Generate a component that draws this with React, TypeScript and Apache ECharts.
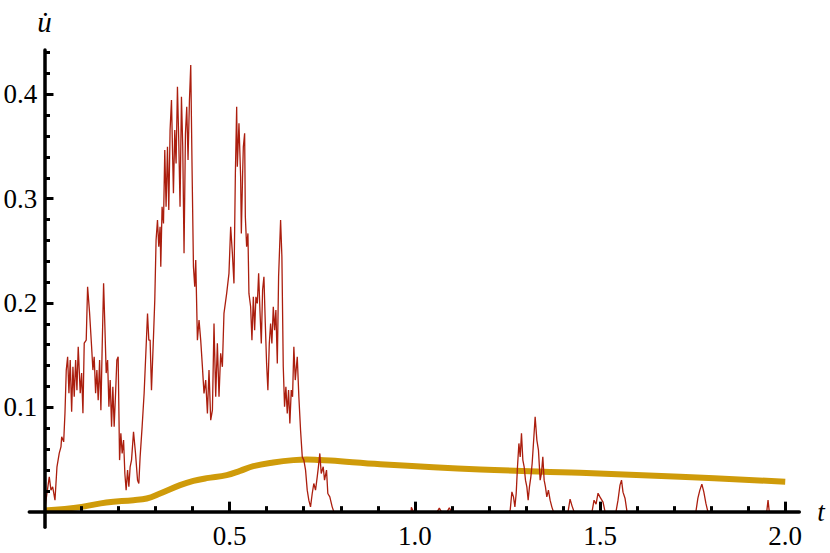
import React, { useEffect, useRef } from "react";
import * as echarts from "echarts";

const xMajorTicks = [0.5, 1.0, 1.5, 2.0];
const xMinorTicks = [0.1, 0.2, 0.3, 0.4, 0.6, 0.7, 0.8, 0.9, 1.1, 1.2, 1.3, 1.4, 1.6, 1.7, 1.8, 1.9];
const yMajorTicks = [0.1, 0.2, 0.3, 0.4];
const yMinorTicks = [0.02, 0.04, 0.06, 0.08, 0.12, 0.14, 0.16, 0.18, 0.22, 0.24, 0.26, 0.28, 0.32, 0.34, 0.36, 0.38, 0.42, 0.44];

// noisy sample path (red)
const redPath: [number, number][] = [
  [0, 0], [0.0067, 0.0177], [0.0129, 0.0334], [0.0175, 0.0206], [0.0221, 0.0238], [0.0283, 0.011],
  [0.0337, 0.043], [0.0399, 0.0561], [0.0445, 0.0621], [0.0464, 0.0717], [0.0518, 0.0669], [0.0553, 0.0944],
  [0.0588, 0.1357], [0.0625, 0.1484], [0.066, 0.1136], [0.0695, 0.1453], [0.0733, 0.0957], [0.0768, 0.1388],
  [0.0803, 0.1101], [0.0841, 0.1453], [0.0876, 0.1165], [0.0911, 0.158], [0.0965, 0.1136], [0.1003, 0.1328],
  [0.1038, 0.0944], [0.1073, 0.1616], [0.1127, 0.1644], [0.1164, 0.2155], [0.1218, 0.1903], [0.1272, 0.158],
  [0.1307, 0.1357], [0.1342, 0.1484], [0.138, 0.1136], [0.1415, 0.1357], [0.145, 0.1069], [0.1488, 0.1453],
  [0.1523, 0.0973], [0.1558, 0.158], [0.1596, 0.2188], [0.1631, 0.1772], [0.1666, 0.1328], [0.1704, 0.1453],
  [0.1739, 0.1005], [0.1774, 0.1261], [0.1811, 0.0813], [0.1846, 0.1197], [0.1881, 0.0813], [0.1919, 0.1133],
  [0.1954, 0.1453], [0.1989, 0.1484], [0.2027, 0.0494], [0.2062, 0.075], [0.2097, 0.0558], [0.2135, 0.0686],
  [0.217, 0.0366], [0.2205, 0.0206], [0.2243, 0.0398], [0.2278, 0.0238], [0.2313, 0.043], [0.235, 0.0494],
  [0.2404, 0.0765], [0.2458, 0.0558], [0.2512, 0.0302], [0.2547, 0.027], [0.2582, 0.0525], [0.2636, 0.0813],
  [0.269, 0.1133], [0.2744, 0.158], [0.2782, 0.19], [0.2817, 0.1644], [0.2852, 0.1644], [0.2889, 0.1165],
  [0.2943, 0.1676], [0.2978, 0.2028], [0.3013, 0.2603], [0.3051, 0.2795], [0.3086, 0.2539], [0.3121, 0.2731],
  [0.314, 0.2347], [0.3175, 0.2922], [0.3213, 0.2763], [0.3248, 0.3466], [0.3283, 0.2922], [0.3321, 0.3498],
  [0.3356, 0.2891], [0.3391, 0.3658], [0.3429, 0.3945], [0.3464, 0.3338], [0.3482, 0.3051], [0.3518, 0.3658],
  [0.3553, 0.3338], [0.359, 0.4073], [0.3625, 0.3562], [0.366, 0.2922], [0.3698, 0.3977], [0.3733, 0.3498],
  [0.3768, 0.2476], [0.3806, 0.3626], [0.3841, 0.3881], [0.3876, 0.337], [0.3914, 0.3945], [0.3949, 0.4281],
  [0.3984, 0.3306], [0.4022, 0.2347], [0.4057, 0.2155], [0.4084, 0.2411], [0.4129, 0.1644], [0.4173, 0.1836],
  [0.4218, 0.1644], [0.4264, 0.1388], [0.4307, 0.1133], [0.4353, 0.1261], [0.4399, 0.0942], [0.4442, 0.1357],
  [0.4488, 0.0877], [0.4534, 0.0973], [0.4577, 0.1804], [0.4623, 0.1101], [0.4668, 0.1613], [0.4712, 0.1101],
  [0.4757, 0.1517], [0.4803, 0.1388], [0.4846, 0.19], [0.4919, 0.2092], [0.4981, 0.2284], [0.5027, 0.2731],
  [0.5073, 0.2476], [0.5116, 0.2188], [0.5154, 0.3243], [0.5189, 0.3881], [0.5207, 0.3306], [0.5251, 0.3722],
  [0.5296, 0.321], [0.5315, 0.2667], [0.535, 0.3243], [0.5369, 0.3498], [0.5404, 0.3626], [0.5423, 0.2826],
  [0.5458, 0.2539], [0.5493, 0.2667], [0.552, 0.2092], [0.5566, 0.1964], [0.5601, 0.1644], [0.5639, 0.2059],
  [0.5674, 0.174], [0.5709, 0.2059], [0.5747, 0.1996], [0.5782, 0.2284], [0.5817, 0.1932], [0.5854, 0.1613],
  [0.5889, 0.2124], [0.5925, 0.2251], [0.5962, 0.1804], [0.5997, 0.1421], [0.6032, 0.1165], [0.607, 0.1613],
  [0.6105, 0.1804], [0.614, 0.1613], [0.6178, 0.1964], [0.6213, 0.174], [0.6248, 0.1932], [0.6286, 0.1421],
  [0.6321, 0.2251], [0.6375, 0.2795], [0.641, 0.2443], [0.6447, 0.1388], [0.6482, 0.1005], [0.6518, 0.1197],
  [0.6555, 0.0942], [0.659, 0.1165], [0.6625, 0.0846], [0.6663, 0.1165], [0.6698, 0.1101], [0.6733, 0.158],
  [0.6771, 0.1261], [0.6825, 0.1484], [0.6868, 0.1101], [0.6914, 0.0781], [0.696, 0.0525], [0.7003, 0.0494],
  [0.7049, 0.0398], [0.7094, 0.0206], [0.7137, 0.011], [0.7183, 0.0046], [0.7229, 0.0174], [0.7272, 0.027],
  [0.7318, 0.0206], [0.7364, 0.0334], [0.7407, 0.0462], [0.7434, 0.0558], [0.7472, 0.0366], [0.7526, 0.043],
  [0.7561, 0.0302], [0.7615, 0.0398], [0.765, 0.0174], [0.7704, 0.0142], [0.7768, 0.0046], [0.7811, 0],
  [0.99, 0], [0.9906, 0.0043], [0.996, 0], [1.0606, 0], [1.066, 0.0034], [1.0714, 0], [1.0876, 0],
  [1.093, 0.0038], [1.0984, 0], [1.2547, 0], [1.2574, 0.0014], [1.262, 0.019], [1.2663, 0.0142],
  [1.2701, 0.0046], [1.2736, 0.0174], [1.2771, 0.043], [1.2809, 0.0654], [1.2844, 0.0525], [1.2879, 0.075],
  [1.2916, 0.0494], [1.2951, 0.043], [1.2987, 0.0302], [1.3024, 0.0238], [1.3059, 0.011], [1.3094, 0.0238],
  [1.3132, 0.0334], [1.3167, 0.0462], [1.3202, 0.0654], [1.3248, 0.0909], [1.3294, 0.0686], [1.3337, 0.059],
  [1.3383, 0.0302], [1.3418, 0.0366], [1.3455, 0.0525], [1.3491, 0.0302], [1.3526, 0.0238], [1.3563, 0.0142],
  [1.3606, 0.0206], [1.3652, 0.011], [1.3698, 0.0046], [1.3741, 0], [1.4137, 0], [1.4191, 0.012],
  [1.4245, 0.0053], [1.4299, 0], [1.4784, 0], [1.4838, 0.011], [1.4892, 0.0072], [1.4946, 0.0177],
  [1.5, 0.0139], [1.5081, 0.0091], [1.5135, 0], [1.5431, 0], [1.5485, 0.011], [1.5539, 0.0254],
  [1.558, 0.0302], [1.562, 0.0187], [1.5674, 0.0129], [1.5728, 0], [1.7588, 0], [1.7642, 0.0129],
  [1.7695, 0.0206], [1.7749, 0.0264], [1.7803, 0.0187], [1.7857, 0.0081], [1.7911, 0], [1.9501, 0],
  [1.9536, 0.011], [1.9569, 0], [2.0, 0],
];

// smooth mean curve (gold)
const goldPath: [number, number][] = [
  [0, 0.001], [0.1, 0.0046], [0.167, 0.0088], [0.24, 0.011], [0.276, 0.0126], [0.312, 0.0174],
  [0.366, 0.0254], [0.402, 0.0295], [0.438, 0.0321], [0.492, 0.035], [0.528, 0.0391], [0.564, 0.0436],
  [0.618, 0.0471], [0.672, 0.0494], [0.708, 0.05], [0.744, 0.0494], [0.772, 0.049], [0.907, 0.0455],
  [1.177, 0.0405], [1.446, 0.0372], [1.716, 0.0334], [2.0, 0.0287],
];

const FONT = "Liberation Serif";
const X_MIN = -0.041;
const X_MAX = 2.038;
const Y_MIN = -0.015;
const Y_MAX = 0.4425;

export default function App() {
  const ref = useRef<HTMLDivElement>(null);
  useEffect(() => {
    const chart = echarts.init(ref.current!, null, { renderer: "svg" });
    const tickStyle = { color: "#000", width: 3 };
    chart.setOption({
      animation: false,
      backgroundColor: "#ffffff",
      grid: { left: 29.3, right: 30.7, top: 50, bottom: 25.7, containLabel: false, outerBoundsMode: "none" },
      xAxis: [
        {
          type: "value", min: X_MIN, max: X_MAX, position: "bottom", z: 5,
          axisLine: { show: true, onZero: true, lineStyle: { color: "#000", width: 3.5 } },
          axisTick: { show: true, inside: true, length: 10, lineStyle: tickStyle, customValues: xMajorTicks },
          axisLabel: {
            show: true, customValues: xMajorTicks, formatter: (v: number) => v.toFixed(1),
            margin: -5, color: "#000", fontSize: 27, fontFamily: FONT,
          },
          splitLine: { show: false },
          name: "t", nameLocation: "end", nameGap: 18,
          nameTextStyle: { fontStyle: "italic", fontSize: 27, fontFamily: FONT, color: "#000", align: "left", verticalAlign: "middle" },
        },
        {
          type: "value", min: X_MIN, max: X_MAX, position: "bottom", z: 5,
          axisLine: { show: false, onZero: true },
          axisTick: { show: true, inside: true, length: 5.5, lineStyle: tickStyle, customValues: xMinorTicks },
          axisLabel: { show: false },
          splitLine: { show: false },
        },
      ],
      yAxis: [
        {
          type: "value", min: Y_MIN, max: Y_MAX, position: "left", z: 5,
          axisLine: { show: true, onZero: true, lineStyle: { color: "#000", width: 3.5 } },
          axisTick: { show: true, inside: true, length: 9, lineStyle: tickStyle, customValues: yMajorTicks },
          axisLabel: {
            show: true, customValues: yMajorTicks, formatter: (v: number) => v.toFixed(1),
            margin: -8, color: "#000", fontSize: 27, fontFamily: FONT,
          },
          splitLine: { show: false },
          name: "u\u0307", nameLocation: "end", nameGap: 14,
          nameTextStyle: { fontStyle: "italic", fontSize: 29, fontFamily: FONT, color: "#000", align: "center" },
        },
        {
          type: "value", min: Y_MIN, max: Y_MAX, position: "left", z: 5,
          axisLine: { show: false, onZero: true },
          axisTick: { show: true, inside: true, length: 5.5, lineStyle: tickStyle, customValues: yMinorTicks },
          axisLabel: { show: false },
          splitLine: { show: false },
        },
      ],
      series: [
        {
          type: "line", data: goldPath, xAxisIndex: 0, yAxisIndex: 0, symbol: "none", showSymbol: false,
          smooth: 0.4, z: 1, lineStyle: { color: "#cf9b0a", width: 6 },
        },
        {
          type: "line", data: redPath, xAxisIndex: 0, yAxisIndex: 0, symbol: "none", showSymbol: false,
          z: 2, lineStyle: { color: "#ab1e0e", width: 1.3 },
        },
      ],
    });
    return () => chart.dispose();
  }, []);
  return <div ref={ref} style={{ position: "fixed", left: 0, top: 0, width: 830, height: 553 }} />;
}
